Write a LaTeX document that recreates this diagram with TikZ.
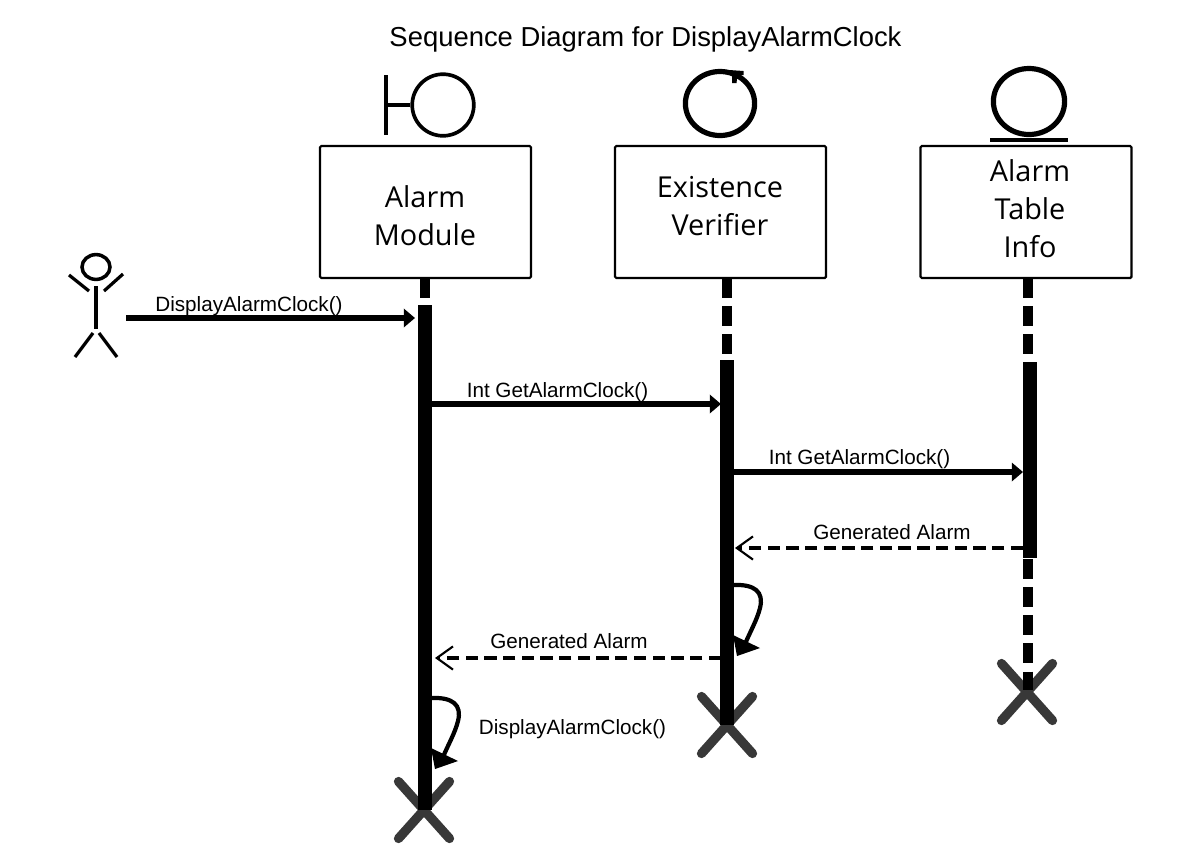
\documentclass[tikz,border=0pt]{standalone}
\usepackage{fontspec}
\setmainfont{Liberation Sans}
\newfontfamily\boxfont{Open Sans}
\usetikzlibrary{arrows.meta,shapes.geometric}

\begin{document}
\begin{tikzpicture}[x=0.025cm,y=-0.025cm]
    \tikzstyle{lifebox}=[rectangle,draw=black,line width=1.6pt,rounded corners=1pt,minimum width=5.275cm,minimum height=3.3cm,inner sep=0pt]
    \tikzstyle{boxlabel}=[align=center,inner sep=0pt,font=\boxfont\fontsize{20.5}{27}\selectfont]
    \tikzstyle{active}=[rectangle,fill=black,inner sep=0pt,minimum width=0.34cm]
    \tikzstyle{lifeline}=[line width=7pt,dash pattern=on 14pt off 6pt]
    \tikzstyle{call}=[-{Triangle[length=8pt,width=13pt]},line width=3.6pt]
    \tikzstyle{reply}=[-{Straight Barb[length=11.5pt,width=16.5pt,line width=1.5pt]},line width=3.4pt,dash pattern=on 8.8pt off 4.5pt]
    \tikzstyle{msg}=[inner sep=0pt,font=\fontsize{14.7}{17}\selectfont]
    \tikzstyle{kill}=[line width=6.6pt,line cap=round,draw=black!78]
    \tikzstyle{icon}=[draw=black,ellipse,inner sep=0pt]
    \tikzstyle{limb}=[line width=2.3pt]
    \useasboundingbox (0,0) rectangle (1200,844);

    % Title
    \node[inner sep=0pt,font=\fontsize{19.5}{23}\selectfont] (title) at (645.5,39) {Sequence Diagram for DisplayAlarmClock};

    % Draw the lifeline boxes
    \node[lifebox] (B-1) at (425.5,212) {};
    \node[lifebox] (B-2) at (720.5,212) {};
    \node[lifebox] (B-3) at (1026,212) {};
    \node[boxlabel] (T-1) at (425,216) {Alarm\\Module};
    \node[boxlabel] (T-2) at (720,206) {Existence\\Verifier};
    \node[boxlabel] (T-3) at (1030,209) {Alarm\\Table\\Info};

    % Destroy marks go under the activation bars
    \foreach \name / \x / \y in {X-1/424/810,X-2/727/725,X-3/1027/692} {
        \coordinate (\name) at (\x,\y);
        \draw[kill] (\x-25.5,\y-28.5) -- (\x+25.5,\y+28.5);
        \draw[kill] (\x+25.5,\y-28.5) -- (\x-25.5,\y+28.5);
    }

    % Activation bars
    \node[active,minimum height=12.625cm] (A-1) at (425,557.5) {};
    \node[active,minimum height=9.125cm] (A-2) at (727,542.5) {};
    \node[active,minimum height=4.9cm] (A-3) at (1030,460) {};

    % Dashed parts of the lifelines
    \coordinate (E-3) at (1028,690);
    \draw[lifeline] (425,278) -- (A-1.north);
    \draw[lifeline] (727,278) -- (A-2.north);
    \draw[lifeline] (1028,278) -- (1028,362);
    \draw[lifeline] (1028,559) -- (E-3);

    % Boundary icon
    \node[icon,line width=2.6pt,minimum width=1.54cm,minimum height=1.54cm] (I-1) at (443,105) {};
    \draw[line width=3pt] (386,75) -- (386,135);
    \draw[line width=2.6pt] (386,105) -- (I-1.west);

    % Control icon
    \node[icon,line width=3.7pt,minimum width=1.73cm,minimum height=1.6cm] (I-2) at (720,103.5) {};
    \fill (729,70) -- (743.5,71) -- (743.5,75) -- (737.5,75) -- (736.5,83) -- (732,83) -- (732,75) -- cycle;

    % Entity icon
    \node[icon,line width=3.7pt,minimum width=1.78cm,minimum height=1.65cm] (I-3) at (1029,101.5) {};
    \draw[line width=2.8pt] (990,140) -- (1068,140);

    % Actor
    \node[icon,line width=2.5pt,minimum width=0.7cm,minimum height=0.62cm] (head) at (96,267) {};
    \draw[limb] (69,275) -- (89,291);
    \draw[limb] (123,274) -- (104,291);
    \draw[limb] (96,286) -- (96,329);
    \draw[limb] (93,333) -- (75,357);
    \draw[limb] (99,333) -- (117,357);

    % Messages
    \coordinate (M-1s) at (126,318);
    \coordinate (M-1e) at (415,318);
    \coordinate (M-2s) at (432,404);
    \coordinate (M-2e) at (721,404);
    \coordinate (M-3s) at (734,472);
    \coordinate (M-3e) at (1023,472);
    \coordinate (R-1s) at (1023,548);
    \coordinate (R-1e) at (735,548);
    \coordinate (R-2s) at (721,658);
    \coordinate (R-2e) at (435,658);
    \draw[call] (M-1s) -- (M-1e);
    \draw[call] (M-2s) -- (M-2e);
    \draw[call] (M-3s) -- (M-3e);
    \draw[reply] (R-1s) -- (R-1e);
    \draw[reply] (R-2s) -- (R-2e);

    % Labels of the messages
    \node[msg] (L-1) at (249,306.5) {DisplayAlarmClock()};
    \node[msg] (L-2) at (557.5,392) {Int GetAlarmClock()};
    \node[msg] (L-3) at (859.5,459.5) {Int GetAlarmClock()};
    \node[msg] (L-4) at (892,532) {Generated Alarm};
    \node[msg] (L-5) at (569,641.5) {Generated Alarm};
    \node[msg] (L-6) at (572.5,729.5) {DisplayAlarmClock()};

    % Self calls
    \foreach \dx / \dy in {0/0,-302/113} {
        \draw[line width=3pt] (733+\dx,585+\dy) .. controls (755+\dx,584+\dy) and (764+\dx,592+\dy) .. (760+\dx,608+\dy)
        	.. controls (757+\dx,620+\dy) and (750+\dx,632+\dy) .. (745+\dx,644+\dy);
        \fill (733+\dx,635+\dy) -- (760+\dx,648+\dy) -- (737+\dx,656+\dy) -- cycle;
    }
\end{tikzpicture}
\end{document}
